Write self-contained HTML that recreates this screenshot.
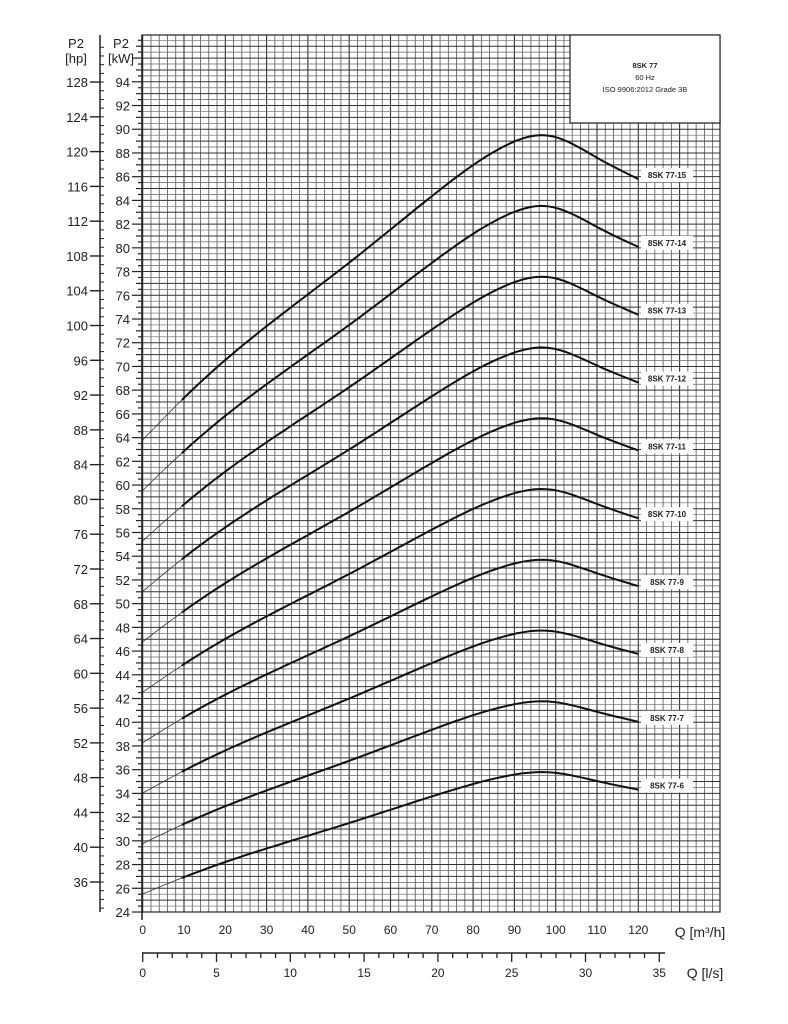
<!DOCTYPE html>
<html><head><meta charset="utf-8"><style>
html,body{margin:0;padding:0;background:#fff;}
svg{display:block;font-family:"Liberation Sans",sans-serif;}
</style></head><body>
<svg id="s" width="788" height="1024" xmlns="http://www.w3.org/2000/svg"></svg>
<script>
const s=document.getElementById('s');
let h='';
const X0=142.7,XS=4.13,Y0=912,YS=11.86;
const qx=q=>X0+q*XS, py=p=>Y0-(p-24)*YS;
const L=(x1,y1,x2,y2,w,c)=>h+=`<line x1="${x1}" y1="${y1}" x2="${x2}" y2="${y2}" stroke="${c||'#222'}" stroke-width="${w}"/>`;
const T=(x,y,t,sz,a,b)=>h+=`<text x="${x}" y="${y}" font-size="${sz}" text-anchor="${a||'middle'}" ${b?'font-weight="bold"':''} fill="#222">${t}</text>`;
// grid
for(let q=0;q<=140;q+=2){const x=qx(q);if(x>720.5)break;L(x,35,x,912,q%10==0?1.1:0.8,q%10==0?'#333':'#555');}
for(let p=24;p<=98;p+=0.5){const y=py(p);if(y<35)break;L(142,y,720,y,Number.isInteger(p)?1:0.7,Number.isInteger(p)?'#333':'#666');}
h+=`<rect x="142" y="35" width="578" height="877" fill="none" stroke="#222" stroke-width="1.2"/>`;
// legend box
h+=`<rect x="570" y="35" width="150" height="88" fill="#fff" stroke="#222" stroke-width="1.2"/>`;
T(645,68,'8SK 77',7.5,'middle',1);T(645,80,'60 Hz',7.5);T(645,92,'ISO 9906:2012 Grade 3B',7.5);
// kW axis
L(142,35,142,920,1.5);
for(let p=24;p<=98;p+=0.5){const y=py(p);if(y<35)break;const maj=p%2==0;L(maj?132:(Number.isInteger(p)?136:138),y,142,y,1.2);if(maj&&p<=94)T(130,y+5,p,13,'end');}
// hp axis
L(100,35,100,912,1.5);
for(let k=0;k<=24;k++){const hp=36+k*4;const y=882-k*34.78;if(y<70)continue;L(90,y,100,y,1.4);T(88,y+5,hp,13,'end');}
for(let y=882+8.7;y<912;y+=8.7)L(100,y,104,y,1);
for(let y=882;y>40;y-=8.695)L(100,y,104,y,1);
T(76,48,'P2',13);T(76,63,'[hp]',13);T(121,48,'P2',13);T(121,63,'[kW]',13);
// Q m3/h labels
for(let q=0;q<=120;q+=10)T(qx(q),934,q,12);
T(700,937,'Q [m³/h]',14);
// l/s axis
L(142,953,665,953,1.5);
for(let l=0;l<=35;l++){const x=X0+l*14.76;L(x,953,x,l%5==0?962:958,1.3);if(l%5==0)T(x,977,l,12);}
T(705,978,'Q [l/s]',14);
// natural cubic spline
const P=[[0,4.253],[10,4.49],[25,4.80],[50,5.25],[72,5.66],[88,5.91],[98,5.965],[110,5.84],[120,5.72]];
const n=P.length,xs=P.map(p=>p[0]),ys=P.map(p=>p[1]);
const hh=[],al=[],l=[1],mu=[0],z=[0],c=new Array(n).fill(0),b=[],d=[];
for(let i=0;i<n-1;i++)hh[i]=xs[i+1]-xs[i];
for(let i=1;i<n-1;i++)al[i]=3/hh[i]*(ys[i+1]-ys[i])-3/hh[i-1]*(ys[i]-ys[i-1]);
for(let i=1;i<n-1;i++){l[i]=2*(xs[i+1]-xs[i-1])-hh[i-1]*mu[i-1];mu[i]=hh[i]/l[i];z[i]=(al[i]-hh[i-1]*z[i-1])/l[i];}
for(let j=n-2;j>=0;j--){c[j]=(j==n-2?0:z[j]-mu[j]*c[j+1]);if(j==n-2)c[j]=z[j];}
// redo properly
c[n-1]=0;for(let j=n-2;j>=1;j--)c[j]=z[j]-mu[j]*c[j+1];c[0]=0;
for(let j=0;j<n-1;j++){b[j]=(ys[j+1]-ys[j])/hh[j]-hh[j]*(c[j+1]+2*c[j])/3;d[j]=(c[j+1]-c[j])/(3*hh[j]);}
function interp(q){let j=0;while(j<n-2&&q>xs[j+1])j++;const t=q-xs[j];return ys[j]+b[j]*t+c[j]*t*t+d[j]*t*t*t;}
for(let k=6;k<=15;k++){let p1='',p2='';for(let q=0;q<=10;q+=1){p1+=(q?'L':'M')+qx(q).toFixed(1)+','+py(k*interp(q)).toFixed(1);}
for(let q=9.5;q<=120;q+=1.5){p2+=(q>9.5?'L':'M')+qx(q).toFixed(1)+','+py(k*interp(q)).toFixed(1);}
p2+='L'+qx(120).toFixed(1)+','+py(k*interp(120)).toFixed(1);
h+=`<path d="${p1}" fill="none" stroke="#333" stroke-width="0.8"/><path d="${p2}" fill="none" stroke="#111" stroke-width="2" stroke-linejoin="round"/>`;
const ey=py(k*interp(120))-4;h+=`<rect x="641" y="${ey-7}" width="52" height="14" fill="#fff"/>`;T(667,ey+3,'8SK 77-'+k,8,'middle',1);}
s.innerHTML=h;
</script>
</body></html>
